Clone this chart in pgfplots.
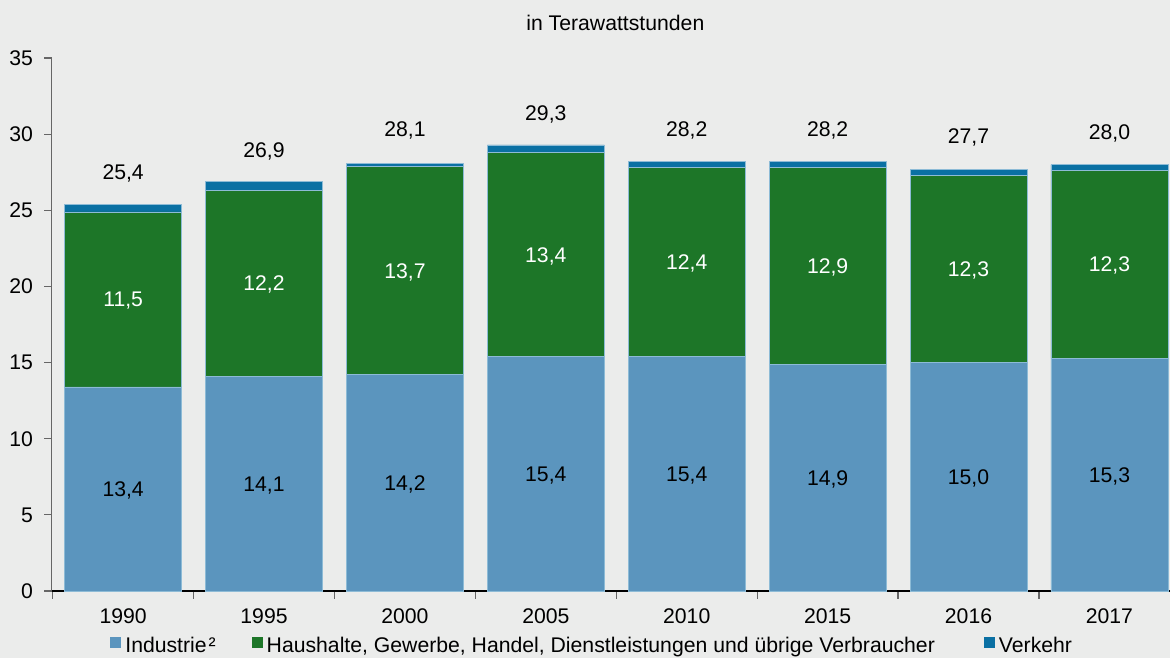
\documentclass[border=0pt]{standalone}
\usepackage{fontspec}
\setmainfont{Liberation Sans}
\usepackage{pgfplots}
\pgfplotsset{compat=1.18}
\usepackage{pgfplotstable}

\definecolor{bg}{HTML}{EBECEB}
\definecolor{indcol}{HTML}{5B95BE}
\definecolor{hhcol}{HTML}{1D7628}
\definecolor{vercol}{HTML}{0A70A3}
\definecolor{edgecol}{HTML}{8DBBD6}

% Stromverbrauch in TWh
\pgfplotstableread{
x  year ind  hh   ver tot
0  1990 13.4 11.5 0.5 25.4
1  1995 14.1 12.2 0.6 26.9
2  2000 14.2 13.7 0.2 28.1
3  2005 15.4 13.4 0.5 29.3
4  2010 15.4 12.4 0.4 28.2
5  2015 14.9 12.9 0.4 28.2
6  2016 15.0 12.3 0.4 27.7
7  2017 15.3 12.3 0.4 28.0
}\datatable

\newcommand{\lbl}{\pgfmathprintnumber[use comma,fixed,fixed zerofill,precision=1]{\pgfplotspointmeta}}

\begin{document}
\begin{tikzpicture}[font=\fontsize{10.6}{12.7}\selectfont]
\useasboundingbox (-25.85pt,-33.5pt) rectangle (559.15pt,295.5pt);
\fill[bg] (-25.85pt,-33.5pt) rectangle (559.15pt,295.5pt);
\begin{axis}[
    at={(0,0)}, anchor=south west,
    scale only axis, width=559.15pt, height=266.5pt,
    xmin=-0.507, xmax=7.43, ymin=0, ymax=35,
    ybar stacked, bar width=0.83,
    axis x line*=bottom, axis y line*=left,
    x axis line style={black, line width=0.6pt},
    y axis line style={black!60, line width=0.6pt},
    tick style={black!60, line width=0.6pt},
    tick align=outside, major tick length=3.8pt,
    ytick={0,5,...,35},
    yticklabel style={xshift=-2pt},
    xtick={-0.5,0.5,...,6.5}, xticklabels={,,,,,,,,},
    extra x ticks={0,1,...,7},
    extra x tick labels={1990,1995,2000,2005,2010,2015,2016,2017},
    extra x tick style={major tick length=0pt, xticklabel style={anchor=base, yshift=-16.3pt}},
    /pgf/number format/assume math mode=true,
    title={in Terawattstunden},
    title style={at={(0.504,1)}, anchor=base, yshift=7.9pt},
    legend style={at={(0.0521,-0.104)}, anchor=west, draw=none, fill=none,
        inner sep=0pt, legend columns=3,
        /tikz/column 2/.style={column sep=16pt},
        /tikz/column 4/.style={column sep=22.5pt}},
    legend image code/.code={\fill[#1, draw=none] (0pt,-0.6pt) rectangle (5.5pt,4.9pt);},
    legend cell align=left,
    point meta=explicit,
]
\addplot[fill=indcol, draw=edgecol, line width=0.3pt,
    nodes near coords=\lbl,
    every node near coord/.append style={black, anchor=base, inner sep=0pt, yshift=-3.8pt}]
    table[x=x, y=ind, meta=ind] {\datatable};
\addplot[fill=hhcol, draw=edgecol, line width=0.3pt,
    nodes near coords=\lbl,
    every node near coord/.append style={white, anchor=base, inner sep=0pt, yshift=-3.8pt}]
    table[x=x, y=hh, meta=hh] {\datatable};
\addplot[fill=vercol, draw=edgecol, line width=0.3pt,
    nodes near coords=\lbl,
    every node near coord/.append style={black, anchor=base, inner sep=0pt, yshift=14.3pt}]
    table[x=x, y=ver, meta=tot] {\datatable};
\legend{Industrie\kern1pt², {Haushalte, Gewerbe, Handel, Dienstleistungen und übrige Verbraucher}, Verkehr}
\end{axis}
\end{tikzpicture}
\end{document}
